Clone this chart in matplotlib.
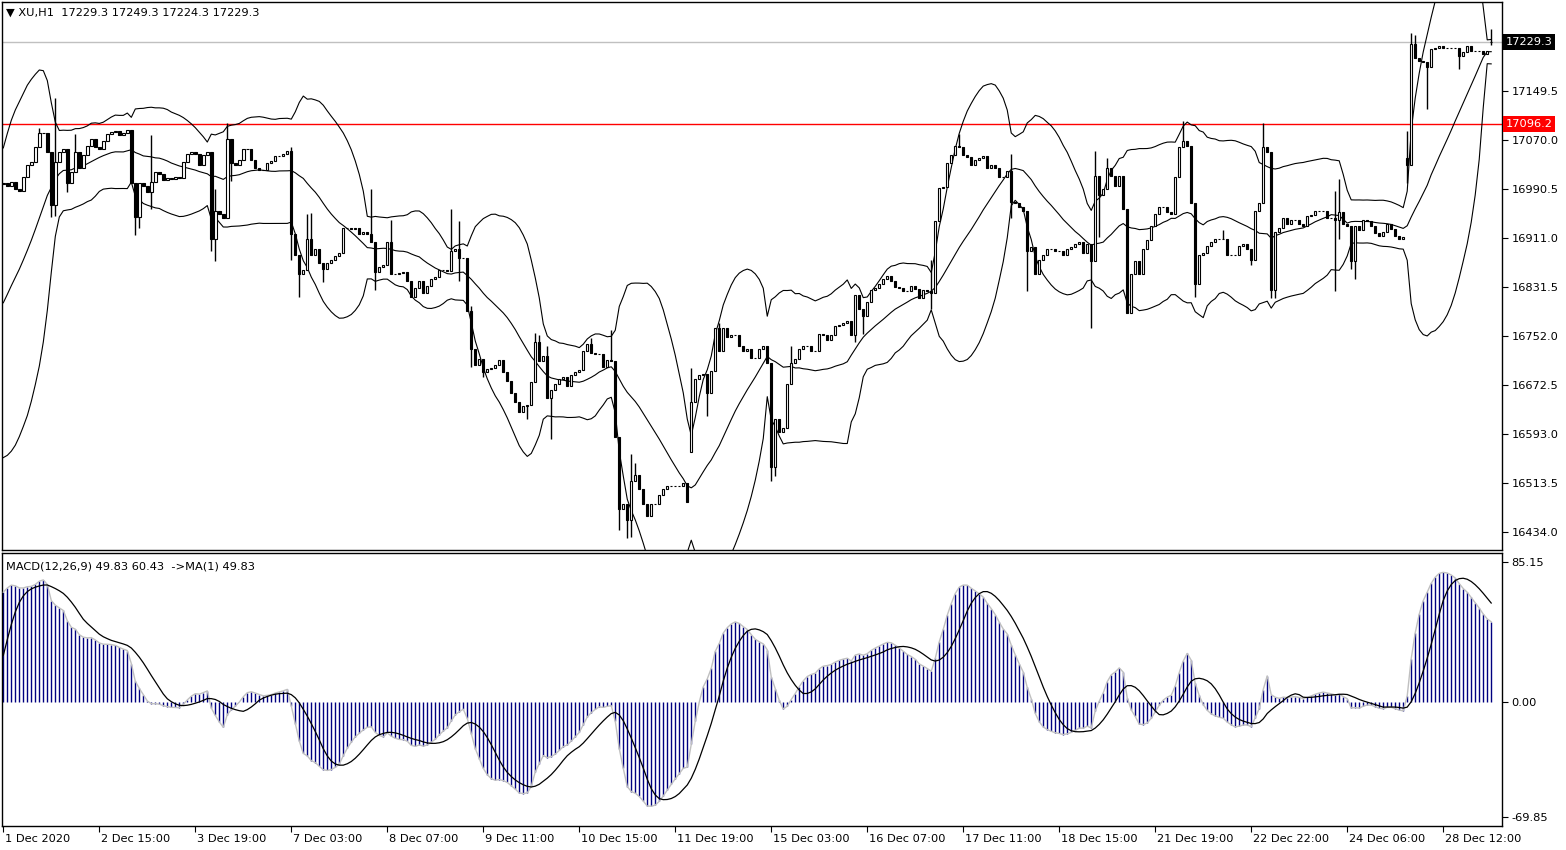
import numpy as np
import pandas as pd
import matplotlib.pyplot as plt
import matplotlib.transforms as mtransforms

# bars before the visible window, only used to warm up the indicators
history_close = [16795, 16788, 16792, 16780, 16776, 16783, 16771, 16765, 16770, 16760, 16755,
                 16762, 16750, 16746, 16752, 16741, 16736, 16742, 16733, 16728, 16735, 16724,
                 16720, 16726, 16716, 16712, 16718, 16708, 16705, 16711, 16702, 16698, 16704,
                 16770, 16870, 16950, 16990, 17005, 16992, 16998]

# XU H1 closes, 1 Dec 2020 -> 28 Dec 2020
close = [
    17000, 16995, 17002, 16990, 16988, 17010, 17030, 17035, 17058, 17081, 17082, 17050,
    16965, 17035, 17050, 17055, 17000, 17018, 17050, 17025, 17045, 17060, 17072, 17058,
    17055, 17068, 17080, 17083, 17084, 17078, 17082, 17086, 17000, 16945, 17000, 16995,
    16985, 17002, 17018, 17015, 17005, 17008, 17006, 17010, 17008, 17035, 17048, 17050,
    17048, 17030, 17045, 17050, 16910, 16955, 16950, 16944, 17072, 17032, 17030, 17038,
    17055, 17055, 17038, 17024, 17021, 17021, 17032, 17036, 17044, 17044, 17047, 17052,
    16917, 16884, 16853, 16859, 16910, 16884, 16893, 16870, 16861, 16870, 16875, 16881,
    16886, 16927, 16928, 16926, 16927, 16918, 16921, 16918, 16904, 16856, 16864, 16868,
    16904, 16853, 16853, 16854, 16856, 16842, 16816, 16830, 16842, 16822, 16833, 16844,
    16847, 16859, 16859, 16858, 16890, 16893, 16879, 16879, 16793, 16731, 16705, 16714,
    16694, 16699, 16700, 16705, 16713, 16694, 16679, 16659, 16645, 16628, 16639, 16640,
    16677, 16742, 16711, 16719, 16651, 16665, 16674, 16682, 16685, 16671, 16688, 16694,
    16697, 16728, 16739, 16725, 16722, 16722, 16702, 16713, 16711, 16588, 16471, 16480,
    16454, 16517, 16526, 16503, 16480, 16460, 16480, 16480, 16494, 16503, 16508, 16509,
    16509, 16509, 16514, 16483, 16645, 16682, 16688, 16690, 16660, 16696, 16765, 16728,
    16765, 16750, 16753, 16753, 16736, 16728, 16731, 16716, 16717, 16731, 16735, 16708,
    16540, 16617, 16597, 16602, 16674, 16708, 16714, 16731, 16736, 16736, 16728, 16728,
    16756, 16753, 16745, 16753, 16768, 16770, 16773, 16776, 16753, 16819, 16796, 16784,
    16807, 16827, 16830, 16836, 16844, 16850, 16842, 16831, 16830, 16825, 16825, 16833,
    16828, 16813, 16827, 16825, 16822, 16938, 16992, 16993, 17032, 17045, 17060, 17058,
    17046, 17043, 17030, 17038, 17041, 17044, 17024, 17030, 17024, 17010, 17010, 17019,
    16970, 16967, 16961, 16955, 16890, 16896, 16853, 16876, 16884, 16893, 16893, 16890,
    16890, 16884, 16893, 16896, 16901, 16904, 16887, 16901, 16873, 17012, 16981, 16990,
    17024, 17012, 16995, 17012, 16958, 16790, 16853, 16873, 16853, 16893, 16907, 16930,
    16950, 16961, 16961, 16953, 16950, 17010, 17058, 17069, 17061, 16968, 16836, 16884,
    16887, 16898, 16904, 16909, 16909, 16909, 16884, 16884, 16883, 16898, 16901, 16893,
    16876, 16955, 16967, 17058, 17050, 16827, 16921, 16927, 16944, 16934, 16941, 16941,
    16933, 16930, 16947, 16949, 16955, 16955, 16955, 16944, 16944, 16941, 16953, 16933,
    16930, 16873, 16930, 16924, 16941, 16938, 16930, 16919, 16915, 16921, 16933, 16925,
    16915, 16910, 16913, 17030, 17226, 17203, 17198, 17197, 17189, 17217, 17220, 17223,
    17220, 17220, 17220, 17220, 17206, 17212, 17223, 17215, 17215, 17215, 17209, 17215,
    17229.3,
]

# opens that differ from the previous close (session gaps)
gap_open = {172: 16563, 351: 17040, 372: 17229.3}

# wick extremes that reach beyond the body
wick_high = {9: 17090, 12: 17040, 13: 17138, 18: 17080, 32: 17075, 37: 17078, 53: 16990,
             56: 17098, 72: 17058, 76: 16950, 77: 16952, 92: 16990, 97: 16941, 112: 16958,
             114: 16938, 117: 16800, 133: 16757, 134: 16753, 136: 16735, 147: 16748,
             152: 16762, 157: 16560, 158: 16546, 172: 16700, 179: 16773, 197: 16736,
             232: 16876, 239: 17080, 252: 17047, 273: 17052, 276: 17041, 295: 17101,
             305: 16924, 315: 17098, 333: 16987, 334: 17007, 351: 17084, 352: 17243,
             353: 17240, 372: 17249.3}
wick_low = {12: 16945, 13: 16946, 16: 16985, 33: 16916, 34: 16927, 37: 16958, 52: 16890,
            53: 16873, 57: 17004, 72: 16876, 74: 16815, 80: 16840, 93: 16827, 114: 16842,
            117: 16702, 120: 16685, 131: 16617, 137: 16585, 154: 16437, 156: 16425,
            157: 16426, 176: 16622, 192: 16517, 193: 16525, 213: 16742, 215: 16755,
            232: 16796, 252: 16944, 256: 16825, 272: 16765, 274: 16912, 298: 16815,
            312: 16867, 317: 16813, 318: 16813, 333: 16825, 334: 16910, 337: 16860,
            338: 16844, 351: 17000, 356: 17121, 364: 17186, 372: 17224.3}

date_labels = ["1 Dec 2020", "2 Dec 15:00", "3 Dec 19:00", "7 Dec 03:00", "8 Dec 07:00",
               "9 Dec 11:00", "10 Dec 15:00", "11 Dec 19:00", "15 Dec 03:00", "16 Dec 07:00",
               "17 Dec 11:00", "18 Dec 15:00", "21 Dec 19:00", "22 Dec 22:00", "24 Dec 06:00",
               "28 Dec 12:00"]
price_ticks = [17149.5, 17070.0, 16990.5, 16911.0, 16831.5, 16752.0, 16672.5, 16593.0,
               16513.5, 16434.0]
macd_ticks = [85.15, 0.0, -69.85]
last_price = 17229.3
level_price = 17096.2

# indicators on the full series
allc = pd.Series(history_close + close, dtype=float)
mid = allc.rolling(20).mean()
sd = allc.rolling(20).std(ddof=0)
upper, lower = mid + 2 * sd, mid - 2 * sd
macd = allc.ewm(span=12, adjust=False).mean() - allc.ewm(span=26, adjust=False).mean()
signal = macd.rolling(9).mean()

h = len(history_close)
n = len(close)
x = np.arange(n)
c = np.array(close, dtype=float)
prev = np.array([history_close[-1]] + close[:-1], dtype=float)
o = prev.copy()
for k, v in gap_open.items():
    o[k] = v
hi = np.maximum(o, c)
lo = np.minimum(o, c)
for k, v in wick_high.items():
    hi[k] = max(hi[k], v)
for k, v in wick_low.items():
    lo[k] = min(lo[k], v)

fig = plt.figure(figsize=(15.66, 8.5), dpi=100)
W, H = 1566, 850
ax = fig.add_axes([2 / W, 1 - 550 / H, 1500 / W, 548 / H])
ax2 = fig.add_axes([2 / W, 1 - 826 / H, 1500 / W, 273 / H])
fs = 8.2

# --- price panel
ax.axhline(last_price, color="#c0c0c0", lw=1, zorder=1)
ax.axhline(level_price, color="red", lw=1, zorder=1)
for s in (upper, mid, lower):
    ax.plot(x, s.values[h:], color="black", lw=0.8, zorder=2)
ax.vlines(x, lo, hi, color="black", lw=1, zorder=3)
up = c >= o
ax.bar(x[up], (c - o)[up], bottom=o[up], width=0.6, facecolor="white",
       edgecolor="black", lw=0.8, zorder=4)
ax.bar(x[~up], (c - o)[~up], bottom=o[~up], width=0.6, facecolor="black",
       edgecolor="black", lw=0.8, zorder=4)

ax.set_xlim(-0.33, 374.7)
ax.set_ylim(16404.8, 17293.9)
ax.yaxis.tick_right()
ax.set_yticks(price_ticks)
ax.set_yticklabels([f"{v:.1f}" for v in price_ticks])
ax.tick_params(axis="y", direction="out", length=4, pad=3, labelsize=fs)
ax.set_xticks([])

tr = mtransforms.blended_transform_factory(ax.transAxes, ax.transData)
ax.text(1.0025, last_price, f"{last_price:.1f}", transform=tr, color="white", fontsize=fs,
        va="center", ha="left", bbox=dict(facecolor="black", edgecolor="none", pad=2))
ax.text(1.0025, level_price, f"{level_price:.1f}", transform=tr, color="white", fontsize=fs,
        va="center", ha="left", bbox=dict(facecolor="red", edgecolor="none", pad=2))
ax.text(0.003, 0.981, "▼ XU,H1  17229.3 17249.3 17224.3 17229.3", transform=ax.transAxes,
        fontsize=fs, va="center", ha="left", color="black")

# --- MACD panel
mv = macd.values[h:]
sv = signal.values[h:]
ax2.vlines(x, 0, mv, color="#000080", lw=1, zorder=2)
ax2.plot(x, mv, color="#c0c0c0", lw=1, zorder=3)
ax2.plot(x, sv, color="black", lw=0.9, zorder=4)
ax2.set_xlim(-0.33, 374.7)
ax2.set_ylim(-75.3, 90.6)
ax2.yaxis.tick_right()
ax2.set_yticks(macd_ticks)
ax2.set_yticklabels([f"{v:.2f}" for v in macd_ticks])
ax2.tick_params(axis="y", direction="out", length=4, pad=3, labelsize=fs)
ax2.set_xticks(np.arange(len(date_labels)) * 24)
ax2.set_xticklabels(date_labels)
ax2.tick_params(axis="x", direction="out", length=4, pad=2, labelsize=fs)
off = mtransforms.ScaledTranslation(2 / 100, 0, fig.dpi_scale_trans)
for lab in ax2.get_xticklabels():
    lab.set_ha("left")
    lab.set_transform(lab.get_transform() + off)
ax2.text(0.003, 0.95, "MACD(12,26,9) 49.83 60.43  ->MA(1) 49.83", transform=ax2.transAxes,
         fontsize=fs, va="center", ha="left", color="black")

for a in (ax, ax2):
    for sp in a.spines.values():
        sp.set_linewidth(1)
        sp.set_color("black")

fig.savefig("out.png", dpi=100, facecolor="white")
